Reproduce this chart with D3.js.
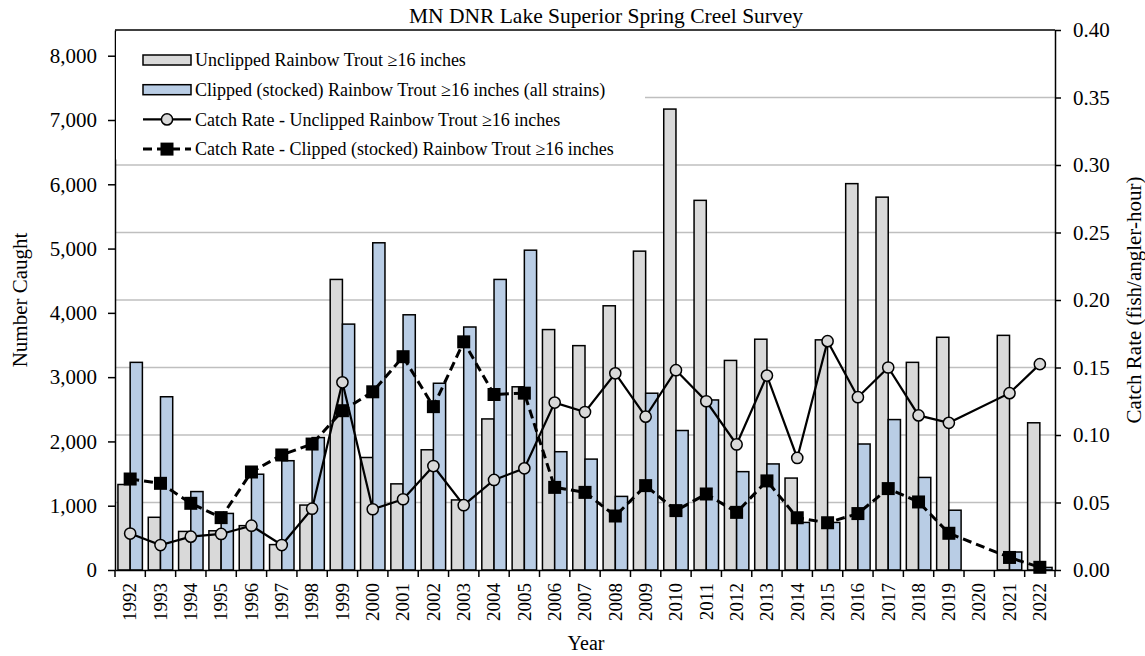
<!DOCTYPE html>
<html>
<head>
<meta charset="utf-8">
<script src="https://cdnjs.cloudflare.com/ajax/libs/d3/7.8.5/d3.min.js"></script>
<style>
  body { margin: 0; background: #fff; }
  svg { display: block; }
  svg text { font-family: "Liberation Serif", "DejaVu Serif", serif; fill: #000; }
  .axis path, .axis line { stroke: #000; stroke-width: 1.5; }
</style>
</head>
<body>
<svg width="1145" height="656"></svg>
<script>
// survey years and values
var years = [1992, 1993, 1994, 1995, 1996, 1997, 1998, 1999, 2000, 2001, 2002,
    2003, 2004, 2005, 2006, 2007, 2008, 2009, 2010, 2011, 2012, 2013, 2014,
    2015, 2016, 2017, 2018, 2019, 2020, 2021, 2022];

var unclippedCount = [1330, 820, 600, 610, 690, 395, 1010, 4520, 1750, 1340, 1870,
    1090, 2350, 2850, 3740, 3490, 4110, 4960, 7170, 5750, 3260, 3590, 1430,
    3580, 6010, 5800, 3230, 3620, null, 3650, 2290];

var clippedCount = [3230, 2695, 1220, 880, 1490, 1700, 2060, 3825, 5090, 3970, 2905,
    3780, 4520, 4975, 1840, 1725, 1145, 2750, 2170, 2645, 1530, 1650, 740,
    740, 1960, 2340, 1440, 930, null, 280, 40];

var unclippedRate = [0.027, 0.0185, 0.0247, 0.0267, 0.0328, 0.0185, 0.0454, 0.139, 0.045, 0.0524, 0.077,
    0.048, 0.0667, 0.0753, 0.124, 0.117, 0.1457, 0.1136, 0.148, 0.125, 0.093, 0.144, 0.083,
    0.1695, 0.128, 0.150, 0.1145, 0.109, null, 0.131, 0.1525];

var clippedRate = [0.0674, 0.0642, 0.0494, 0.0388, 0.0726, 0.0852, 0.0933, 0.118, 0.132, 0.158, 0.121,
    0.169, 0.130, 0.131, 0.0612, 0.0575, 0.040, 0.0625, 0.044, 0.0563, 0.0427, 0.066, 0.0387,
    0.035, 0.0418, 0.0603, 0.0504, 0.0272, null, 0.0093, 0.002];

var countTicks = [0, 1000, 2000, 3000, 4000, 5000, 6000, 7000, 8000];
var rateTicks = [0, 0.05, 0.10, 0.15, 0.20, 0.25, 0.30, 0.35, 0.40];

var legendLabels = [
    "Unclipped Rainbow Trout \u226516 inches",
    "Clipped (stocked) Rainbow Trout \u226516 inches (all strains)",
    "Catch Rate - Unclipped Rainbow Trout \u226516 inches",
    "Catch Rate - Clipped (stocked) Rainbow Trout \u226516 inches"
];

var svg = d3.select("svg"),
    margin = { top: 30, right: 90, bottom: 86, left: 115 },
    width = +svg.attr("width") - margin.left - margin.right,
    height = +svg.attr("height") - margin.top - margin.bottom;

var greyFill = "#d9d9d9",
    blueFill = "#b9cde5";

var x = d3.scaleBand()
    .domain(years.map(String))
    .range([0, width])
    .padding(0);

var xSub = d3.scaleBand()
    .domain(["unclipped", "clipped"])
    .range([0, x.bandwidth()])
    .paddingInner(0)
    .paddingOuter(0.24);

var yCount = d3.scaleLinear().domain([0, 8400]).range([height, 0]);
var yRate = d3.scaleLinear().domain([0, 0.4]).range([height, 0]);

var g = svg.append("g")
    .attr("transform", "translate(" + margin.left + "," + margin.top + ")");

// gridlines follow the catch rate axis
g.selectAll(".grid")
    .data(rateTicks.slice(1, -1))
    .enter().append("line")
    .attr("class", "grid")
    .attr("x1", 0)
    .attr("x2", width)
    .attr("y1", d => yRate(d))
    .attr("y2", d => yRate(d))
    .attr("stroke", "#bfbfbf")
    .attr("stroke-width", 1.5);

var rows = years.map(function (yr, i) {
    return { year: String(yr), unclipped: unclippedCount[i], clipped: clippedCount[i],
        uRate: unclippedRate[i], cRate: clippedRate[i] };
});

// bars
var groups = g.selectAll(".yr")
    .data(rows)
    .enter().append("g")
    .attr("class", "yr")
    .attr("transform", d => "translate(" + x(d.year) + ",0)");

groups.filter(d => d.unclipped != null).append("rect")
    .attr("x", xSub("unclipped"))
    .attr("y", d => yCount(d.unclipped))
    .attr("width", xSub.bandwidth())
    .attr("height", d => height - yCount(d.unclipped))
    .attr("fill", greyFill)
    .attr("stroke", "#000")
    .attr("stroke-width", 1.5);

groups.filter(d => d.clipped != null).append("rect")
    .attr("x", xSub("clipped"))
    .attr("y", d => yCount(d.clipped))
    .attr("width", xSub.bandwidth())
    .attr("height", d => height - yCount(d.clipped))
    .attr("fill", blueFill)
    .attr("stroke", "#000")
    .attr("stroke-width", 1.5);

var cx = d => x(d.year) + x.bandwidth() / 2;

// catch rate lines (2020 has no survey, line just joins 2019 to 2021)
var uPts = rows.filter(d => d.uRate != null);
var cPts = rows.filter(d => d.cRate != null);

g.append("path")
    .datum(uPts)
    .attr("fill", "none")
    .attr("stroke", "#000")
    .attr("stroke-width", 2.2)
    .attr("d", d3.line().x(cx).y(d => yRate(d.uRate)));

g.append("path")
    .datum(cPts)
    .attr("fill", "none")
    .attr("stroke", "#000")
    .attr("stroke-width", 3)
    .attr("stroke-dasharray", "9,5")
    .attr("d", d3.line().x(cx).y(d => yRate(d.cRate)));

g.selectAll(".circ")
    .data(uPts)
    .enter().append("circle")
    .attr("class", "circ")
    .attr("cx", cx)
    .attr("cy", d => yRate(d.uRate))
    .attr("r", 5.6)
    .attr("fill", greyFill)
    .attr("stroke", "#000")
    .attr("stroke-width", 1.5);

g.selectAll(".sq")
    .data(cPts)
    .enter().append("rect")
    .attr("class", "sq")
    .attr("x", d => cx(d) - 6.5)
    .attr("y", d => yRate(d.cRate) - 6.5)
    .attr("width", 13)
    .attr("height", 13)
    .attr("fill", "#000");

// axes
g.append("g")
    .attr("class", "axis")
    .call(d3.axisLeft(yCount).tickValues(countTicks).tickSize(7).tickSizeOuter(0)
        .tickPadding(11).tickFormat(d3.format(",")))
    .attr("font-size", "21px")
    .attr("font-family", null);

g.append("g")
    .attr("class", "axis")
    .attr("transform", "translate(" + width + ",0)")
    .call(d3.axisRight(yRate).tickValues(rateTicks).tickSize(6).tickSizeOuter(0)
        .tickPadding(12).tickFormat(d3.format(".2f")))
    .attr("font-size", "21px")
    .attr("font-family", null);

var xAxis = g.append("g")
    .attr("class", "axis")
    .attr("transform", "translate(0," + height + ")")
    .call(d3.axisBottom(x).tickSize(0).tickSizeOuter(0))
    .attr("font-size", "19px")
    .attr("font-family", null);

xAxis.selectAll("text")
    .attr("transform", "rotate(-90)")
    .attr("text-anchor", "end")
    .attr("x", -13)
    .attr("y", 0)
    .attr("dy", "0.33em");

// tick marks sit between the years
xAxis.selectAll(".bound")
    .data(d3.range(years.length + 1))
    .enter().append("line")
    .attr("class", "bound")
    .attr("x1", i => i * x.step())
    .attr("x2", i => i * x.step())
    .attr("y1", 0)
    .attr("y2", 7);

// top border
g.append("line")
    .attr("x1", 0).attr("x2", width)
    .attr("y1", 0).attr("y2", 0)
    .attr("stroke", "#000")
    .attr("stroke-width", 1.5);

// legend
var leg = g.append("g");
leg.append("rect")
    .attr("x", 1).attr("y", 1.5)
    .attr("width", 529).attr("height", 128)
    .attr("fill", "#fff");

var legItems = leg.selectAll(".li")
    .data(legendLabels)
    .enter().append("g")
    .attr("class", "li")
    .attr("transform", (d, i) => "translate(28," + (30 + i * 29.7) + ")");

legItems.append("text")
    .attr("x", 52)
    .attr("dy", "0.34em")
    .style("font-size", "18px")
    .text(d => d);

legItems.filter((d, i) => i < 2).append("rect")
    .attr("x", 0).attr("y", -5)
    .attr("width", 48).attr("height", 10)
    .attr("fill", (d, i) => i == 0 ? greyFill : blueFill)
    .attr("stroke", "#000")
    .attr("stroke-width", 1.5);

legItems.filter((d, i) => i == 2).append("line")
    .attr("x1", 0).attr("x2", 48)
    .attr("stroke", "#000").attr("stroke-width", 2.2);
legItems.filter((d, i) => i == 2).append("circle")
    .attr("cx", 24).attr("r", 5.6)
    .attr("fill", greyFill).attr("stroke", "#000").attr("stroke-width", 1.5);

legItems.filter((d, i) => i == 3).append("line")
    .attr("x1", 0).attr("x2", 48)
    .attr("stroke", "#000").attr("stroke-width", 3)
    .attr("stroke-dasharray", "9,5");
legItems.filter((d, i) => i == 3).append("rect")
    .attr("x", 17.5).attr("y", -6.5)
    .attr("width", 13).attr("height", 13)
    .attr("fill", "#000");

// titles
svg.append("text")
    .attr("x", 606)
    .attr("y", 23)
    .attr("text-anchor", "middle")
    .style("font-size", "21.5px")
    .text("MN DNR Lake Superior Spring Creel Survey");

svg.append("text")
    .attr("transform", "translate(27,300) rotate(-90)")
    .attr("text-anchor", "middle")
    .style("font-size", "21px")
    .text("Number Caught");

svg.append("text")
    .attr("transform", "translate(1141,300) rotate(-90)")
    .attr("text-anchor", "middle")
    .style("font-size", "21px")
    .text("Catch Rate (fish/angler-hour)");

svg.append("text")
    .attr("x", 586)
    .attr("y", 650)
    .attr("text-anchor", "middle")
    .style("font-size", "20px")
    .text("Year");
</script>
</body>
</html>
